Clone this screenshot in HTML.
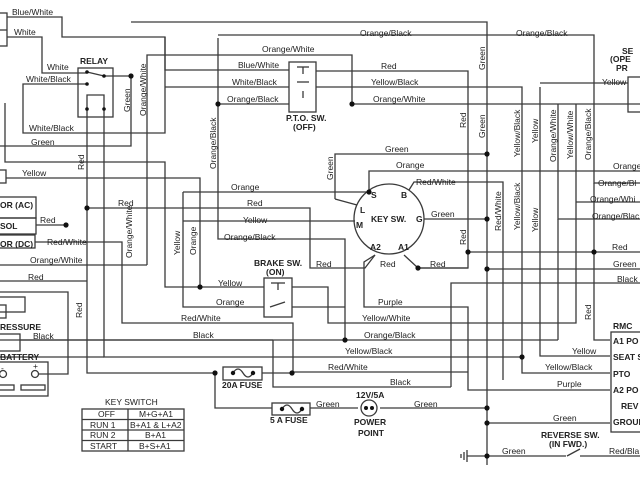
<!DOCTYPE html>
<html><head><meta charset="utf-8"><style>
html,body{margin:0;padding:0;background:#fff;width:640px;height:480px;overflow:hidden}
svg{display:block}
text{font-family:"Liberation Sans",sans-serif;font-size:8.5px;fill:#222}
.b{font-weight:bold;font-size:8.5px}
</style></head><body>
<svg width="640" height="480" viewBox="0 0 640 480" xmlns="http://www.w3.org/2000/svg">
<g stroke="#3a3a3a" stroke-width="1.3" fill="none">
<rect x="-2" y="13" width="9" height="33"/><line x1="0" y1="30" x2="7" y2="30"/>
<polyline points="7,17 62,17 62,37 165,37 165,70 289,70"/>
<polyline points="7,37 42,37 42,73 87,73"/>
<polyline points="165,37 165,133 23,133 23,84 87,84"/>
<polyline points="165,87 289,87"/>
<polyline points="131,22 487,22 487,465"/>
<polyline points="218,35 594,35 594,183 640,183"/>
<polyline points="147,265 147,55 352,55 352,104"/>
<polyline points="218,38 218,239 345,239 345,340"/>
<line x1="218" y1="104" x2="289" y2="104"/>
<line x1="352" y1="104" x2="640" y2="104"/>
<polyline points="316,71 468,71 468,268 418,268"/>
<polyline points="316,87 522,87 522,373 610,373"/>
<polyline points="540,87 540,356 610,356"/>
<line x1="540" y1="83" x2="628" y2="83"/>
<rect x="628" y="77" width="14" height="35"/>
<polyline points="558,104 558,219 640,219"/>
<polyline points="576,104 576,323 328,323 328,287 292,287"/>
<line x1="576" y1="202" x2="640" y2="202"/>
<polyline points="594,183 594,340 610,340"/>
<rect x="78" y="68" width="35" height="49"/>
<line x1="87" y1="72" x2="104" y2="76"/>
<polyline points="104,76 131,76 131,146 0,146"/>
<polyline points="87,109 87,95 100,95 104,95 104,109"/>
<polyline points="87,109 87,373 215,373"/>
<polyline points="104,109 104,357 522,357"/>
<rect x="289" y="62" width="27" height="50"/>
<line x1="297" y1="67" x2="309" y2="67"/><line x1="303" y1="67" x2="303" y2="74"/>
<line x1="297" y1="82" x2="309" y2="82"/><line x1="303" y1="91" x2="303" y2="98"/>
<rect x="-2" y="170" width="8" height="13"/>
<polyline points="5,103 5,162 165,162 165,287 264,287"/>
<polyline points="6,178 200,178 200,287"/>
<polyline points="87,208 310,208 310,268 365,268 375,255"/>
<rect x="-2" y="197" width="38" height="21"/><rect x="-2" y="218" width="38" height="16"/>
<line x1="36" y1="225" x2="66" y2="225"/>
<rect x="-2" y="235" width="37" height="13"/>
<polyline points="35,242 122,242 122,323 293,323 293,372 468,372"/>
<line x1="0" y1="265" x2="147" y2="265"/>
<polyline points="183,192 369,192"/>
<polyline points="183,192 183,307 264,307"/>
<polyline points="292,307 345,307"/>
<line x1="0" y1="281" x2="87" y2="281"/>
<circle cx="389" cy="219" r="35"/>
<polyline points="335,199 335,154 487,154"/>
<line x1="335" y1="199" x2="357" y2="205"/>
<polyline points="369,192 369,171 640,171"/>
<polyline points="409,190 414,182 503,182 503,380"/>
<line x1="424" y1="219" x2="487" y2="219"/>
<line x1="183" y1="221" x2="355" y2="221"/>
<polyline points="375,255 364,262 364,307 468,307 468,390 610,390"/>
<polyline points="404,255 418,268 468,268"/>
<line x1="468" y1="252" x2="640" y2="252"/>
<line x1="487" y1="269" x2="640" y2="269"/>
<polyline points="451,387 451,283 640,283"/>
<line x1="0" y1="340" x2="558" y2="340"/><line x1="558" y1="219" x2="558" y2="340"/>
<line x1="0" y1="357" x2="104" y2="357"/>
<rect x="264" y="278" width="28" height="39"/>
<line x1="271" y1="283" x2="285" y2="283"/><line x1="278" y1="283" x2="278" y2="290"/>
<line x1="270" y1="307" x2="285" y2="302"/>
<rect x="-2" y="297" width="27" height="15"/><rect x="-2" y="305" width="8" height="13"/>
<polyline points="0,292 68,292 68,374 39,374"/>
<rect x="-2" y="334" width="22" height="17"/>
<rect x="-2" y="362" width="50" height="34"/>
<circle cx="3" cy="374" r="3.5"/><circle cx="35" cy="374" r="3.5"/>
<rect x="-2" y="385" width="16" height="5"/><rect x="21" y="385" width="24" height="5"/>
<line x1="20" y1="340" x2="273" y2="340"/>
<polyline points="273,340 273,387 451,387"/>
<rect x="223" y="367" width="39" height="13"/>
<path d="M233,373 q5,-8 10,0 q5,8 10,0"/>
<polyline points="215,373 215,408 272,408"/>
<line x1="262" y1="373" x2="293" y2="373"/>
<rect x="272" y="403" width="38" height="12"/>
<path d="M282,409 q5,-8 10,0 q5,8 10,0"/>
<line x1="310" y1="408" x2="358" y2="408"/>
<line x1="380" y1="408" x2="487" y2="408"/>
<circle cx="369" cy="408" r="8"/>
<line x1="487" y1="423" x2="610" y2="423"/>
<polyline points="467,456 566,456"/><line x1="567" y1="456" x2="580" y2="449"/>
<line x1="580" y1="456" x2="640" y2="456"/>
<line x1="467" y1="450" x2="467" y2="462"/><line x1="464" y1="452" x2="464" y2="460"/><line x1="461" y1="454" x2="461" y2="458"/>
<rect x="611" y="332" width="32" height="100"/>
<rect x="82" y="409" width="102" height="42"/>
<line x1="128" y1="409" x2="128" y2="451"/>
<line x1="82" y1="419.5" x2="184" y2="419.5"/><line x1="82" y1="430" x2="184" y2="430"/><line x1="82" y1="440.5" x2="184" y2="440.5"/>
</g>
<g fill="#111">
<circle cx="131" cy="76" r="2.6"/><circle cx="218" cy="104" r="2.6"/><circle cx="352" cy="104" r="2.6"/>
<circle cx="87" cy="208" r="2.6"/><circle cx="66" cy="225" r="2.6"/><circle cx="200" cy="287" r="2.6"/>
<circle cx="369" cy="192" r="2.6"/><circle cx="487" cy="154" r="2.6"/><circle cx="487" cy="219" r="2.6"/>
<circle cx="468" cy="252" r="2.6"/><circle cx="594" cy="252" r="2.6"/><circle cx="418" cy="268" r="2.6"/>
<circle cx="487" cy="269" r="2.6"/><circle cx="345" cy="340" r="2.6"/><circle cx="522" cy="357" r="2.6"/>
<circle cx="215" cy="373" r="2.6"/><circle cx="292" cy="373" r="2.6"/><circle cx="487" cy="408" r="2.6"/>
<circle cx="487" cy="423" r="2.6"/><circle cx="487" cy="456" r="2.6"/>
<circle cx="233" cy="373" r="2.2"/><circle cx="253" cy="373" r="2.2"/><circle cx="282" cy="409" r="2.2"/><circle cx="302" cy="409" r="2.2"/>
<circle cx="366" cy="408" r="2"/><circle cx="372" cy="408" r="2"/>
<circle cx="87" cy="72" r="1.8"/><circle cx="104" cy="76" r="1.8"/><circle cx="87" cy="84" r="1.8"/>
<circle cx="87" cy="109" r="1.8"/><circle cx="104" cy="109" r="1.8"/>
</g>
<text x="12" y="15">Blue/White</text><text x="14" y="35">White</text>
<text x="47" y="70">White</text><text x="26" y="82">White/Black</text>
<text x="29" y="131">White/Black</text><text x="31" y="145">Green</text>
<text x="22" y="176">Yellow</text><text x="40" y="223">Red</text><text x="118" y="206">Red</text>
<text x="47" y="245">Red/White</text><text x="30" y="263">Orange/White</text><text x="28" y="280">Red</text>
<text x="33" y="339">Black</text>
<text x="262" y="52">Orange/White</text><text x="238" y="68">Blue/White</text><text x="232" y="85">White/Black</text><text x="227" y="102">Orange/Black</text>
<text x="360" y="36">Orange/Black</text><text x="516" y="36">Orange/Black</text>
<text x="381" y="69">Red</text><text x="371" y="85">Yellow/Black</text><text x="373" y="102">Orange/White</text>
<text x="602" y="85">Yellow</text>
<text x="385" y="152">Green</text><text x="396" y="168">Orange</text><text x="416" y="185">Red/White</text><text x="431" y="217">Green</text>
<text x="613" y="169">Orange</text><text x="598" y="186">Orange/Bl</text><text x="590" y="202">Orange/Whi</text><text x="592" y="219">Orange/Blac</text>
<text x="612" y="250">Red</text><text x="613" y="267">Green</text><text x="617" y="282">Black</text>
<text x="231" y="190">Orange</text><text x="247" y="206">Red</text><text x="243" y="223">Yellow</text><text x="224" y="240">Orange/Black</text>
<text x="316" y="267">Red</text><text x="380" y="267">Red</text><text x="430" y="267">Red</text>
<text x="218" y="286">Yellow</text><text x="216" y="305">Orange</text>
<text x="181" y="321">Red/White</text><text x="193" y="338">Black</text>
<text x="378" y="305">Purple</text><text x="362" y="321">Yellow/White</text><text x="364" y="338">Orange/Black</text>
<text x="345" y="354">Yellow/Black</text><text x="328" y="370">Red/White</text><text x="390" y="385">Black</text>
<text x="572" y="354">Yellow</text><text x="545" y="370">Yellow/Black</text><text x="557" y="387">Purple</text>
<text x="316" y="407">Green</text><text x="414" y="407">Green</text><text x="553" y="421">Green</text>
<text x="502" y="454">Green</text><text x="609" y="454">Red/Bla</text>
<g transform="rotate(-90)">
<text x="-112" y="130">Green</text><text x="-116" y="146">Orange/White</text>
<text x="-169" y="216">Orange/Black</text>
<text x="-170" y="84">Red</text><text x="-258" y="132">Orange/White</text>
<text x="-255" y="180">Yellow</text><text x="-255" y="196">Orange</text><text x="-318" y="82">Red</text>
<text x="-180" y="333">Green</text><text x="-128" y="466">Red</text><text x="-70" y="485">Green</text><text x="-138" y="485">Green</text>
<text x="-157" y="520">Yellow/Black</text><text x="-143" y="538">Yellow</text>
<text x="-162" y="556">Orange/White</text><text x="-159" y="573">Yellow/White</text><text x="-160" y="591">Orange/Black</text>
<text x="-231" y="501">Red/White</text><text x="-230" y="520">Yellow/Black</text><text x="-232" y="538">Yellow</text>
<text x="-245" y="466">Red</text><text x="-320" y="591">Red</text>
</g>
<text class="b" x="80" y="64">RELAY</text>
<text class="b" x="286" y="121">P.T.O. SW.</text><text class="b" x="293" y="130">(OFF)</text>
<text class="b" x="371" y="222">KEY SW.</text>
<text class="b" x="371" y="198">S</text><text class="b" x="401" y="198">B</text><text class="b" x="360" y="213">L</text>
<text class="b" x="416" y="222">G</text><text class="b" x="356" y="228">M</text>
<text class="b" x="370" y="250">A2</text><text class="b" x="398" y="250">A1</text>
<text class="b" x="254" y="266">BRAKE SW.</text><text class="b" x="266" y="275">(ON)</text>
<text class="b" x="0" y="208">OR (AC)</text><text class="b" x="0" y="229">SOL</text><text class="b" x="0" y="247">OR (DC)</text>
<text class="b" x="0" y="330">RESSURE</text><text class="b" x="0" y="360">BATTERY</text>
<text class="b" x="222" y="388">20A FUSE</text><text class="b" x="270" y="423">5 A FUSE</text>
<text class="b" x="356" y="398">12V/5A</text><text class="b" x="354" y="425">POWER</text><text class="b" x="358" y="436">POINT</text>
<text class="b" x="541" y="438">REVERSE SW.</text><text class="b" x="549" y="447">(IN FWD.)</text>
<text class="b" x="613" y="329">RMC</text><text class="b" x="613" y="344">A1 PO</text><text class="b" x="613" y="360">SEAT S</text>
<text class="b" x="613" y="377">PTO</text><text class="b" x="613" y="393">A2 PO</text><text class="b" x="621" y="409">REV</text><text class="b" x="613" y="425">GROUN</text>
<text class="b" x="622" y="54">SE</text><text class="b" x="610" y="62">(OPE</text><text class="b" x="616" y="71">PR</text>
<text x="105" y="405">KEY SWITCH</text>
<text x="98" y="417">OFF</text><text x="139" y="417">M+G+A1</text>
<text x="90" y="428">RUN 1</text><text x="130" y="428">B+A1 &amp; L+A2</text>
<text x="90" y="438">RUN 2</text><text x="145" y="438">B+A1</text>
<text x="90" y="449">START</text><text x="139" y="449">B+S+A1</text>
<text x="1" y="371">-</text><text x="33" y="369">+</text>
</svg>
</body></html>
